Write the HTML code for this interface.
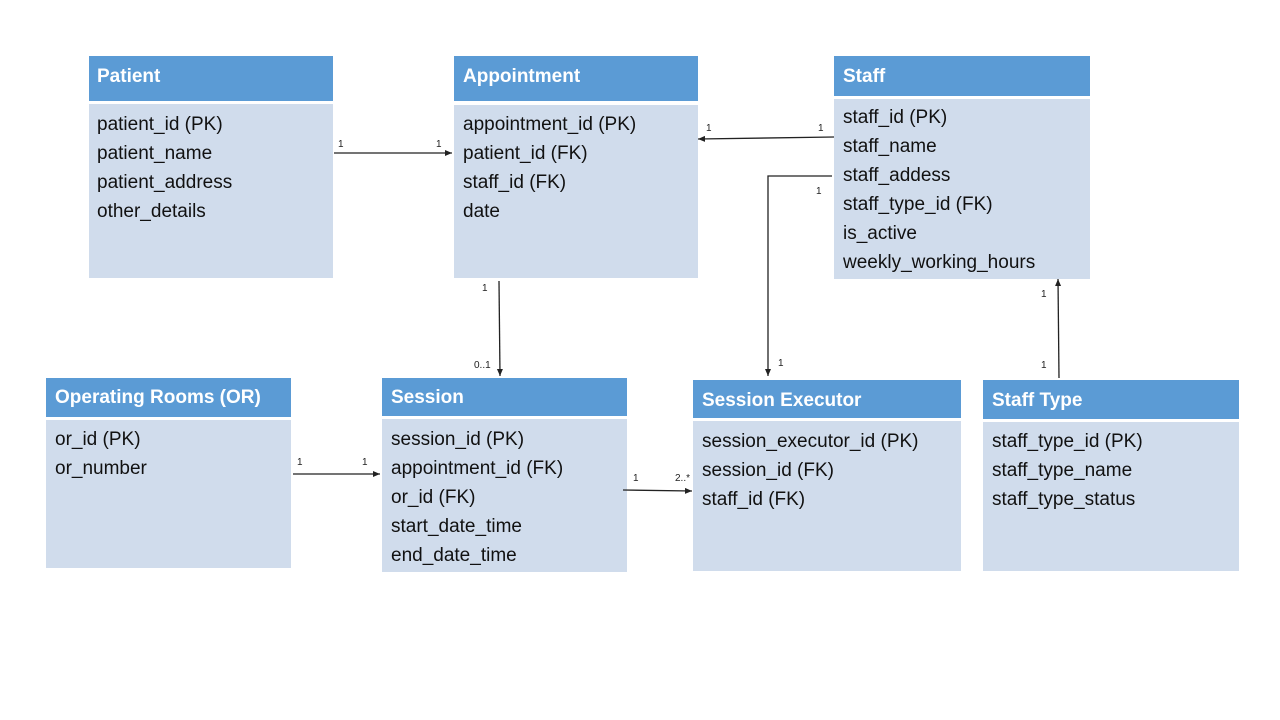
<!DOCTYPE html>
<html><head><meta charset="utf-8"><style>
html,body{margin:0;padding:0;background:#fff;}
svg{display:block;}
.h{font-family:"Liberation Sans",sans-serif;font-weight:bold;font-size:19px;fill:#fff;}
.t{font-family:"Liberation Sans",sans-serif;font-size:19px;fill:#111;}
.l{font-family:"Liberation Sans",sans-serif;font-size:10px;fill:#222;}
.hd{fill:#5b9bd5;}
.bd{fill:#d0dcec;}
line{stroke:#222;stroke-width:1.3;}
</style></head><body>
<svg width="1280" height="720" viewBox="0 0 1280 720" xmlns="http://www.w3.org/2000/svg">
<defs><marker id="a" markerWidth="8" markerHeight="8" refX="7" refY="3" orient="auto" markerUnits="userSpaceOnUse"><path d="M0,0 L7,3 L0,6 z" fill="#222"/></marker></defs>

<rect class="hd" x="89" y="56" width="244" height="45"/>
<rect class="bd" x="89" y="104" width="244" height="174"/>
<text class="h" x="97" y="82">Patient</text>
<text class="t" x="97" y="130">patient_id (PK)</text>
<text class="t" x="97" y="159">patient_name</text>
<text class="t" x="97" y="188">patient_address</text>
<text class="t" x="97" y="217">other_details</text>

<rect class="hd" x="454" y="56" width="244" height="45"/>
<rect class="bd" x="454" y="105" width="244" height="173"/>
<text class="h" x="463" y="82">Appointment</text>
<text class="t" x="463" y="130">appointment_id (PK)</text>
<text class="t" x="463" y="159">patient_id (FK)</text>
<text class="t" x="463" y="188">staff_id (FK)</text>
<text class="t" x="463" y="217">date</text>

<rect class="hd" x="834" y="56" width="256" height="40"/>
<rect class="bd" x="834" y="99" width="256" height="180"/>
<text class="h" x="843" y="82">Staff</text>
<text class="t" x="843" y="123">staff_id (PK)</text>
<text class="t" x="843" y="152">staff_name</text>
<text class="t" x="843" y="181">staff_addess</text>
<text class="t" x="843" y="210">staff_type_id (FK)</text>
<text class="t" x="843" y="239">is_active</text>
<text class="t" x="843" y="268">weekly_working_hours</text>

<rect class="hd" x="46" y="378" width="245" height="39"/>
<rect class="bd" x="46" y="420" width="245" height="148"/>
<text class="h" x="55" y="403">Operating Rooms (OR)</text>
<text class="t" x="55" y="445">or_id (PK)</text>
<text class="t" x="55" y="474">or_number</text>

<rect class="hd" x="382" y="378" width="245" height="38"/>
<rect class="bd" x="382" y="419" width="245" height="153"/>
<text class="h" x="391" y="403">Session</text>
<text class="t" x="391" y="445">session_id (PK)</text>
<text class="t" x="391" y="474">appointment_id (FK)</text>
<text class="t" x="391" y="503">or_id (FK)</text>
<text class="t" x="391" y="532">start_date_time</text>
<text class="t" x="391" y="561">end_date_time</text>

<rect class="hd" x="693" y="380" width="268" height="38"/>
<rect class="bd" x="693" y="421" width="268" height="150"/>
<text class="h" x="702" y="406">Session Executor</text>
<text class="t" x="702" y="447">session_executor_id (PK)</text>
<text class="t" x="702" y="476">session_id (FK)</text>
<text class="t" x="702" y="505">staff_id (FK)</text>

<rect class="hd" x="983" y="380" width="256" height="39"/>
<rect class="bd" x="983" y="422" width="256" height="149"/>
<text class="h" x="992" y="406">Staff Type</text>
<text class="t" x="992" y="447">staff_type_id (PK)</text>
<text class="t" x="992" y="476">staff_type_name</text>
<text class="t" x="992" y="505">staff_type_status</text>

<line x1="334" y1="153" x2="452" y2="153" marker-end="url(#a)"/>
<text class="l" x="338" y="147">1</text><text class="l" x="436" y="147">1</text>

<line x1="834" y1="137" x2="698" y2="139" marker-end="url(#a)"/>
<text class="l" x="706" y="131">1</text><text class="l" x="818" y="131">1</text>

<polyline points="832,176 768,176 768,376" fill="none" stroke="#222" stroke-width="1.3" marker-end="url(#a)"/>
<text class="l" x="816" y="194">1</text><text class="l" x="778" y="366">1</text>

<line x1="499" y1="281" x2="500" y2="376" marker-end="url(#a)"/>
<text class="l" x="482" y="291">1</text><text class="l" x="474" y="368">0..1</text>

<line x1="1059" y1="378" x2="1058" y2="279" marker-end="url(#a)"/>
<text class="l" x="1041" y="297">1</text><text class="l" x="1041" y="368">1</text>

<line x1="293" y1="474" x2="380" y2="474" marker-end="url(#a)"/>
<text class="l" x="297" y="465">1</text><text class="l" x="362" y="465">1</text>

<line x1="623" y1="490" x2="692" y2="491" marker-end="url(#a)"/>
<text class="l" x="633" y="481">1</text><text class="l" x="675" y="481">2..*</text>
</svg>
</body></html>
